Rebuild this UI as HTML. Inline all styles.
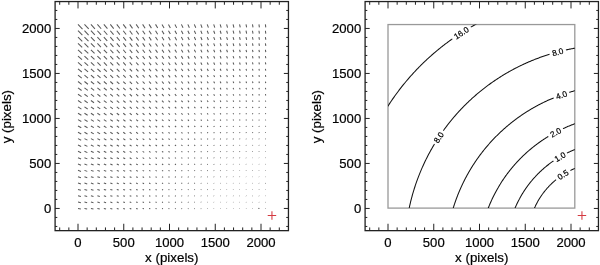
<!DOCTYPE html>
<html><head><meta charset="utf-8"><style>
html,body{margin:0;padding:0;background:#fff;}
svg{display:block;will-change:transform;}
.t{font-family:"Liberation Sans",sans-serif;font-size:13.1px;fill:#000;stroke:#000;stroke-width:0.2px;}
.a{font-family:"Liberation Sans",sans-serif;font-size:13.35px;fill:#000;stroke:#000;stroke-width:0.2px;}
.c{font-family:"Liberation Sans",sans-serif;font-size:8.2px;fill:#000;stroke:#000;stroke-width:0.2px;}
</style></head><body>
<svg width="600" height="265" viewBox="0 0 600 265">
<rect width="600" height="265" fill="#fff"/>
<rect x="55.10" y="1.55" width="233.35" height="229.10" fill="none" stroke="#222" stroke-width="1.3"/>
<path d="M59.70 230.65v-3.2M59.70 1.55v3.2M55.10 226.45h2.2M288.45 226.45h-2.2M68.85 230.65v-3.2M68.85 1.55v3.2M55.10 217.45h2.2M288.45 217.45h-2.2M78.00 230.65v-6.9M78.00 1.55v6.9M55.10 208.45h4.6M288.45 208.45h-4.6M87.15 230.65v-3.2M87.15 1.55v3.2M55.10 199.45h2.2M288.45 199.45h-2.2M96.30 230.65v-3.2M96.30 1.55v3.2M55.10 190.45h2.2M288.45 190.45h-2.2M105.45 230.65v-3.2M105.45 1.55v3.2M55.10 181.45h2.2M288.45 181.45h-2.2M114.60 230.65v-3.2M114.60 1.55v3.2M55.10 172.45h2.2M288.45 172.45h-2.2M123.75 230.65v-6.9M123.75 1.55v6.9M55.10 163.45h4.6M288.45 163.45h-4.6M132.90 230.65v-3.2M132.90 1.55v3.2M55.10 154.45h2.2M288.45 154.45h-2.2M142.05 230.65v-3.2M142.05 1.55v3.2M55.10 145.45h2.2M288.45 145.45h-2.2M151.20 230.65v-3.2M151.20 1.55v3.2M55.10 136.45h2.2M288.45 136.45h-2.2M160.35 230.65v-3.2M160.35 1.55v3.2M55.10 127.45h2.2M288.45 127.45h-2.2M169.50 230.65v-6.9M169.50 1.55v6.9M55.10 118.45h4.6M288.45 118.45h-4.6M178.65 230.65v-3.2M178.65 1.55v3.2M55.10 109.45h2.2M288.45 109.45h-2.2M187.80 230.65v-3.2M187.80 1.55v3.2M55.10 100.45h2.2M288.45 100.45h-2.2M196.95 230.65v-3.2M196.95 1.55v3.2M55.10 91.45h2.2M288.45 91.45h-2.2M206.10 230.65v-3.2M206.10 1.55v3.2M55.10 82.45h2.2M288.45 82.45h-2.2M215.25 230.65v-6.9M215.25 1.55v6.9M55.10 73.45h4.6M288.45 73.45h-4.6M224.40 230.65v-3.2M224.40 1.55v3.2M55.10 64.45h2.2M288.45 64.45h-2.2M233.55 230.65v-3.2M233.55 1.55v3.2M55.10 55.45h2.2M288.45 55.45h-2.2M242.70 230.65v-3.2M242.70 1.55v3.2M55.10 46.45h2.2M288.45 46.45h-2.2M251.85 230.65v-3.2M251.85 1.55v3.2M55.10 37.45h2.2M288.45 37.45h-2.2M261.00 230.65v-6.9M261.00 1.55v6.9M55.10 28.45h4.6M288.45 28.45h-4.6M270.15 230.65v-3.2M270.15 1.55v3.2M55.10 19.45h2.2M288.45 19.45h-2.2M279.30 230.65v-3.2M279.30 1.55v3.2M55.10 10.45h2.2M288.45 10.45h-2.2" stroke="#222" stroke-width="1" fill="none"/>
<text x="78.00" y="247.25" text-anchor="middle" class="t">0</text>
<text x="51.20" y="212.95" text-anchor="end" class="t">0</text>
<text x="123.75" y="247.25" text-anchor="middle" class="t">500</text>
<text x="51.20" y="167.95" text-anchor="end" class="t">500</text>
<text x="169.50" y="247.25" text-anchor="middle" class="t">1000</text>
<text x="51.20" y="122.95" text-anchor="end" class="t">1000</text>
<text x="215.25" y="247.25" text-anchor="middle" class="t">1500</text>
<text x="51.20" y="77.95" text-anchor="end" class="t">1500</text>
<text x="261.00" y="247.25" text-anchor="middle" class="t">2000</text>
<text x="51.20" y="32.95" text-anchor="end" class="t">2000</text>
<text x="171.78" y="261.7" text-anchor="middle" class="a">x (pixels)</text>
<text x="11.50" y="116.65" transform="rotate(-90 11.50 116.65)" text-anchor="middle" class="a">y (pixels)</text>
<path d="M267.70 215.50h8.5M271.95 211.20v8.6" stroke="#d43a40" stroke-width="1.05"/>
<rect x="365.10" y="1.55" width="233.35" height="229.10" fill="none" stroke="#222" stroke-width="1.3"/>
<path d="M369.70 230.65v-3.2M369.70 1.55v3.2M365.10 226.45h2.2M598.45 226.45h-2.2M378.85 230.65v-3.2M378.85 1.55v3.2M365.10 217.45h2.2M598.45 217.45h-2.2M388.00 230.65v-6.9M388.00 1.55v6.9M365.10 208.45h4.6M598.45 208.45h-4.6M397.15 230.65v-3.2M397.15 1.55v3.2M365.10 199.45h2.2M598.45 199.45h-2.2M406.30 230.65v-3.2M406.30 1.55v3.2M365.10 190.45h2.2M598.45 190.45h-2.2M415.45 230.65v-3.2M415.45 1.55v3.2M365.10 181.45h2.2M598.45 181.45h-2.2M424.60 230.65v-3.2M424.60 1.55v3.2M365.10 172.45h2.2M598.45 172.45h-2.2M433.75 230.65v-6.9M433.75 1.55v6.9M365.10 163.45h4.6M598.45 163.45h-4.6M442.90 230.65v-3.2M442.90 1.55v3.2M365.10 154.45h2.2M598.45 154.45h-2.2M452.05 230.65v-3.2M452.05 1.55v3.2M365.10 145.45h2.2M598.45 145.45h-2.2M461.20 230.65v-3.2M461.20 1.55v3.2M365.10 136.45h2.2M598.45 136.45h-2.2M470.35 230.65v-3.2M470.35 1.55v3.2M365.10 127.45h2.2M598.45 127.45h-2.2M479.50 230.65v-6.9M479.50 1.55v6.9M365.10 118.45h4.6M598.45 118.45h-4.6M488.65 230.65v-3.2M488.65 1.55v3.2M365.10 109.45h2.2M598.45 109.45h-2.2M497.80 230.65v-3.2M497.80 1.55v3.2M365.10 100.45h2.2M598.45 100.45h-2.2M506.95 230.65v-3.2M506.95 1.55v3.2M365.10 91.45h2.2M598.45 91.45h-2.2M516.10 230.65v-3.2M516.10 1.55v3.2M365.10 82.45h2.2M598.45 82.45h-2.2M525.25 230.65v-6.9M525.25 1.55v6.9M365.10 73.45h4.6M598.45 73.45h-4.6M534.40 230.65v-3.2M534.40 1.55v3.2M365.10 64.45h2.2M598.45 64.45h-2.2M543.55 230.65v-3.2M543.55 1.55v3.2M365.10 55.45h2.2M598.45 55.45h-2.2M552.70 230.65v-3.2M552.70 1.55v3.2M365.10 46.45h2.2M598.45 46.45h-2.2M561.85 230.65v-3.2M561.85 1.55v3.2M365.10 37.45h2.2M598.45 37.45h-2.2M571.00 230.65v-6.9M571.00 1.55v6.9M365.10 28.45h4.6M598.45 28.45h-4.6M580.15 230.65v-3.2M580.15 1.55v3.2M365.10 19.45h2.2M598.45 19.45h-2.2M589.30 230.65v-3.2M589.30 1.55v3.2M365.10 10.45h2.2M598.45 10.45h-2.2" stroke="#222" stroke-width="1" fill="none"/>
<text x="388.00" y="247.25" text-anchor="middle" class="t">0</text>
<text x="361.20" y="212.95" text-anchor="end" class="t">0</text>
<text x="433.75" y="247.25" text-anchor="middle" class="t">500</text>
<text x="361.20" y="167.95" text-anchor="end" class="t">500</text>
<text x="479.50" y="247.25" text-anchor="middle" class="t">1000</text>
<text x="361.20" y="122.95" text-anchor="end" class="t">1000</text>
<text x="525.25" y="247.25" text-anchor="middle" class="t">1500</text>
<text x="361.20" y="77.95" text-anchor="end" class="t">1500</text>
<text x="571.00" y="247.25" text-anchor="middle" class="t">2000</text>
<text x="361.20" y="32.95" text-anchor="end" class="t">2000</text>
<text x="481.77" y="261.7" text-anchor="middle" class="a">x (pixels)</text>
<text x="321.50" y="116.65" transform="rotate(-90 321.50 116.65)" text-anchor="middle" class="a">y (pixels)</text>
<path d="M577.70 215.50h8.5M581.95 211.20v8.6" stroke="#d43a40" stroke-width="1.05"/>
<path d="M78.00 208.45l2.87 0.49M78.00 202.10l2.88 0.58M78.00 195.76l2.90 0.66M78.00 189.41l2.92 0.75M78.00 183.06l2.94 0.84M78.00 176.71l2.97 0.93M78.00 170.37l3.00 1.03M78.00 164.02l3.03 1.13M78.00 157.67l3.06 1.23M78.00 151.33l3.10 1.33M78.00 144.98l3.14 1.44M78.00 138.63l3.18 1.55M78.00 132.29l3.22 1.67M78.00 125.94l3.27 1.79M78.00 119.59l3.31 1.91M78.00 113.24l3.37 2.04M78.00 106.90l3.42 2.18M78.00 100.55l3.48 2.33M78.00 94.20l3.54 2.48M78.00 87.86l3.60 2.64M78.00 81.51l3.67 2.80M78.00 75.16l3.74 2.97M78.00 68.82l3.82 3.15M78.00 62.47l3.90 3.34M78.00 56.12l3.99 3.54M78.00 49.77l4.08 3.75M78.00 43.43l4.18 3.96M78.00 37.08l4.28 4.19M78.00 30.73l4.38 4.43M78.00 24.39l4.50 4.69M84.46 208.45l2.70 0.49M84.46 202.10l2.71 0.57M84.46 195.76l2.73 0.66M84.46 189.41l2.75 0.74M84.46 183.06l2.77 0.83M84.46 176.71l2.80 0.92M84.46 170.37l2.82 1.01M84.46 164.02l2.85 1.10M84.46 157.67l2.89 1.20M84.46 151.33l2.92 1.30M84.46 144.98l2.96 1.41M84.46 138.63l2.99 1.51M84.46 132.29l3.04 1.63M84.46 125.94l3.08 1.74M84.46 119.59l3.13 1.87M84.46 113.24l3.18 2.00M84.46 106.90l3.23 2.13M84.46 100.55l3.28 2.27M84.46 94.20l3.34 2.42M84.46 87.86l3.40 2.57M84.46 81.51l3.47 2.73M84.46 75.16l3.54 2.90M84.46 68.82l3.61 3.07M84.46 62.47l3.69 3.26M84.46 56.12l3.77 3.45M84.46 49.77l3.85 3.65M84.46 43.43l3.94 3.87M84.46 37.08l4.04 4.09M84.46 30.73l4.14 4.33M84.46 24.39l4.25 4.58M90.92 208.45l2.54 0.49M90.92 202.10l2.55 0.57M90.92 195.76l2.57 0.65M90.92 189.41l2.59 0.73M90.92 183.06l2.61 0.82M90.92 176.71l2.63 0.90M90.92 170.37l2.66 0.99M90.92 164.02l2.69 1.08M90.92 157.67l2.72 1.18M90.92 151.33l2.75 1.27M90.92 144.98l2.79 1.38M90.92 138.63l2.82 1.48M90.92 132.29l2.86 1.59M90.92 125.94l2.91 1.70M90.92 119.59l2.95 1.82M90.92 113.24l3.00 1.95M90.92 106.90l3.05 2.08M90.92 100.55l3.10 2.21M90.92 94.20l3.15 2.36M90.92 87.86l3.21 2.51M90.92 81.51l3.27 2.66M90.92 75.16l3.34 2.83M90.92 68.82l3.41 3.00M90.92 62.47l3.48 3.18M90.92 56.12l3.56 3.37M90.92 49.77l3.64 3.57M90.92 43.43l3.73 3.78M90.92 37.08l3.82 4.00M90.92 30.73l3.91 4.23M90.92 24.39l4.02 4.47M97.39 208.45l2.39 0.49M97.39 202.10l2.40 0.57M97.39 195.76l2.42 0.64M97.39 189.41l2.44 0.72M97.39 183.06l2.46 0.80M97.39 176.71l2.48 0.89M97.39 170.37l2.51 0.97M97.39 164.02l2.53 1.06M97.39 157.67l2.56 1.15M97.39 151.33l2.59 1.25M97.39 144.98l2.63 1.34M97.39 138.63l2.66 1.45M97.39 132.29l2.70 1.55M97.39 125.94l2.74 1.66M97.39 119.59l2.78 1.78M97.39 113.24l2.83 1.90M97.39 106.90l2.87 2.03M97.39 100.55l2.92 2.16M97.39 94.20l2.98 2.30M97.39 87.86l3.03 2.45M97.39 81.51l3.09 2.60M97.39 75.16l3.15 2.76M97.39 68.82l3.21 2.93M97.39 62.47l3.28 3.11M97.39 56.12l3.36 3.29M97.39 49.77l3.43 3.49M97.39 43.43l3.52 3.69M97.39 37.08l3.60 3.91M97.39 30.73l3.70 4.13M97.39 24.39l3.79 4.37M103.85 208.45l2.21 0.48M103.85 202.10l2.24 0.56M103.85 195.76l2.27 0.63M103.85 189.41l2.30 0.71M103.85 183.06l2.32 0.79M103.85 176.71l2.34 0.87M103.85 170.37l2.36 0.95M103.85 164.02l2.39 1.04M103.85 157.67l2.41 1.13M103.85 151.33l2.44 1.22M103.85 144.98l2.48 1.32M103.85 138.63l2.51 1.42M103.85 132.29l2.55 1.52M103.85 125.94l2.58 1.63M103.85 119.59l2.62 1.74M103.85 113.24l2.67 1.86M103.85 106.90l2.71 1.98M103.85 100.55l2.76 2.11M103.85 94.20l2.81 2.25M103.85 87.86l2.86 2.39M103.85 81.51l2.91 2.54M103.85 75.16l2.97 2.70M103.85 68.82l3.03 2.86M103.85 62.47l3.10 3.04M103.85 56.12l3.17 3.22M103.85 49.77l3.24 3.41M103.85 43.43l3.32 3.61M103.85 37.08l3.40 3.82M103.85 30.73l3.49 4.04M103.85 24.39l3.58 4.28M110.31 208.45l2.04 0.47M110.31 202.10l2.06 0.54M110.31 195.76l2.09 0.61M110.31 189.41l2.12 0.69M110.31 183.06l2.15 0.77M110.31 176.71l2.19 0.85M110.31 170.37l2.22 0.94M110.31 164.02l2.25 1.02M110.31 157.67l2.28 1.11M110.31 151.33l2.30 1.20M110.31 144.98l2.33 1.29M110.31 138.63l2.37 1.38M110.31 132.29l2.40 1.49M110.31 125.94l2.44 1.59M110.31 119.59l2.47 1.70M110.31 113.24l2.51 1.81M110.31 106.90l2.56 1.94M110.31 100.55l2.60 2.06M110.31 94.20l2.65 2.19M110.31 87.86l2.70 2.33M110.31 81.51l2.75 2.48M110.31 75.16l2.80 2.64M110.31 68.82l2.86 2.80M110.31 62.47l2.92 2.97M110.31 56.12l2.98 3.15M110.31 49.77l3.05 3.33M110.31 43.43l3.13 3.53M110.31 37.08l3.21 3.74M110.31 30.73l3.29 3.96M110.31 24.39l3.38 4.19M116.77 208.45l1.88 0.46M116.77 202.10l1.90 0.52M116.77 195.76l1.93 0.59M116.77 189.41l1.96 0.67M116.77 183.06l1.99 0.74M116.77 176.71l2.02 0.82M116.77 170.37l2.06 0.91M116.77 164.02l2.10 0.99M116.77 157.67l2.14 1.08M116.77 151.33l2.17 1.17M116.77 144.98l2.20 1.26M116.77 138.63l2.23 1.35M116.77 132.29l2.26 1.45M116.77 125.94l2.30 1.56M116.77 119.59l2.33 1.66M116.77 113.24l2.37 1.77M116.77 106.90l2.41 1.89M116.77 100.55l2.45 2.02M116.77 94.20l2.50 2.15M116.77 87.86l2.54 2.28M116.77 81.51l2.59 2.43M116.77 75.16l2.64 2.58M116.77 68.82l2.69 2.74M116.77 62.47l2.75 2.90M116.77 56.12l2.81 3.08M116.77 49.77l2.88 3.26M116.77 43.43l2.95 3.46M116.77 37.08l3.02 3.66M116.77 30.73l3.10 3.87M116.77 24.39l3.18 4.10M123.23 208.45l1.74 0.44M123.23 202.10l1.76 0.51M123.23 195.76l1.78 0.58M123.23 189.41l1.81 0.65M123.23 183.06l1.84 0.72M123.23 176.71l1.87 0.79M123.23 170.37l1.90 0.87M123.23 164.02l1.94 0.96M123.23 157.67l1.98 1.05M123.23 151.33l2.03 1.14M123.23 144.98l2.07 1.23M123.23 138.63l2.10 1.33M123.23 132.29l2.13 1.42M123.23 125.94l2.16 1.52M123.23 119.59l2.20 1.63M123.23 113.24l2.23 1.74M123.23 106.90l2.27 1.85M123.23 100.55l2.31 1.97M123.23 94.20l2.35 2.10M123.23 87.86l2.40 2.23M123.23 81.51l2.44 2.37M123.23 75.16l2.49 2.52M123.23 68.82l2.54 2.68M123.23 62.47l2.59 2.84M123.23 56.12l2.65 3.02M123.23 49.77l2.71 3.20M123.23 43.43l2.77 3.39M123.23 37.08l2.84 3.58M123.23 30.73l2.92 3.80M123.23 24.39l3.00 4.02M129.70 208.45l1.60 0.43M129.70 202.10l1.62 0.49M129.70 195.76l1.64 0.56M129.70 189.41l1.67 0.62M129.70 183.06l1.70 0.69M129.70 176.71l1.73 0.77M129.70 170.37l1.76 0.84M129.70 164.02l1.80 0.92M129.70 157.67l1.83 1.01M129.70 151.33l1.88 1.10M129.70 144.98l1.92 1.19M129.70 138.63l1.97 1.29M129.70 132.29l2.01 1.39M129.70 125.94l2.04 1.49M129.70 119.59l2.07 1.59M129.70 113.24l2.10 1.70M129.70 106.90l2.14 1.81M129.70 100.55l2.18 1.93M129.70 94.20l2.22 2.05M129.70 87.86l2.26 2.18M129.70 81.51l2.30 2.32M129.70 75.16l2.35 2.47M129.70 68.82l2.39 2.62M129.70 62.47l2.44 2.78M129.70 56.12l2.49 2.95M129.70 49.77l2.55 3.13M129.70 43.43l2.61 3.32M129.70 37.08l2.67 3.51M129.70 30.73l2.74 3.72M129.70 24.39l2.82 3.94M136.16 208.45l1.48 0.42M136.16 202.10l1.49 0.48M136.16 195.76l1.52 0.54M136.16 189.41l1.54 0.60M136.16 183.06l1.57 0.67M136.16 176.71l1.59 0.74M136.16 170.37l1.63 0.81M136.16 164.02l1.66 0.89M136.16 157.67l1.70 0.97M136.16 151.33l1.74 1.06M136.16 144.98l1.78 1.15M136.16 138.63l1.82 1.25M136.16 132.29l1.87 1.35M136.16 125.94l1.92 1.46M136.16 119.59l1.95 1.56M136.16 113.24l1.98 1.66M136.16 106.90l2.02 1.77M136.16 100.55l2.05 1.89M136.16 94.20l2.09 2.01M136.16 87.86l2.13 2.14M136.16 81.51l2.17 2.27M136.16 75.16l2.21 2.41M136.16 68.82l2.25 2.56M136.16 62.47l2.30 2.72M136.16 56.12l2.35 2.89M136.16 49.77l2.40 3.07M136.16 43.43l2.45 3.26M136.16 37.08l2.51 3.45M136.16 30.73l2.58 3.65M136.16 24.39l2.65 3.87M142.62 208.45l1.36 0.41M142.62 202.10l1.38 0.47M142.62 195.76l1.40 0.53M142.62 189.41l1.42 0.59M142.62 183.06l1.45 0.65M142.62 176.71l1.47 0.72M142.62 170.37l1.50 0.79M142.62 164.02l1.53 0.86M142.62 157.67l1.57 0.94M142.62 151.33l1.61 1.02M142.62 144.98l1.64 1.11M142.62 138.63l1.69 1.20M142.62 132.29l1.73 1.30M142.62 125.94l1.78 1.41M142.62 119.59l1.83 1.52M142.62 113.24l1.87 1.63M142.62 106.90l1.90 1.73M142.62 100.55l1.93 1.85M142.62 94.20l1.97 1.97M142.62 87.86l2.00 2.09M142.62 81.51l2.04 2.22M142.62 75.16l2.08 2.36M142.62 68.82l2.12 2.51M142.62 62.47l2.16 2.67M142.62 56.12l2.21 2.83M142.62 49.77l2.25 3.01M142.62 43.43l2.30 3.19M142.62 37.08l2.36 3.38M142.62 30.73l2.42 3.58M142.62 24.39l2.49 3.80M149.08 208.45l1.23 0.39M149.08 202.10l1.26 0.45M149.08 195.76l1.28 0.51M149.08 189.41l1.31 0.57M149.08 183.06l1.34 0.63M149.08 176.71l1.36 0.69M149.08 170.37l1.39 0.76M149.08 164.02l1.42 0.83M149.08 157.67l1.45 0.91M149.08 151.33l1.48 0.99M149.08 144.98l1.52 1.07M149.08 138.63l1.56 1.16M149.08 132.29l1.60 1.26M149.08 125.94l1.65 1.36M149.08 119.59l1.70 1.47M149.08 113.24l1.75 1.59M149.08 106.90l1.79 1.70M149.08 100.55l1.82 1.81M149.08 94.20l1.85 1.93M149.08 87.86l1.88 2.05M149.08 81.51l1.92 2.18M149.08 75.16l1.95 2.32M149.08 68.82l1.99 2.46M149.08 62.47l2.03 2.61M149.08 56.12l2.08 2.78M149.08 49.77l2.12 2.95M149.08 43.43l2.16 3.13M149.08 37.08l2.21 3.32M149.08 30.73l2.27 3.52M149.08 24.39l2.33 3.73M155.54 208.45l1.11 0.37M155.54 202.10l1.13 0.42M155.54 195.76l1.16 0.48M155.54 189.41l1.19 0.54M155.54 183.06l1.22 0.60M155.54 176.71l1.26 0.67M155.54 170.37l1.28 0.74M155.54 164.02l1.31 0.80M155.54 157.67l1.34 0.88M155.54 151.33l1.37 0.95M155.54 144.98l1.41 1.04M155.54 138.63l1.44 1.12M155.54 132.29l1.48 1.22M155.54 125.94l1.53 1.32M155.54 119.59l1.57 1.42M155.54 113.24l1.62 1.54M155.54 106.90l1.67 1.66M155.54 100.55l1.71 1.77M155.54 94.20l1.74 1.89M155.54 87.86l1.77 2.01M155.54 81.51l1.80 2.14M155.54 75.16l1.84 2.27M155.54 68.82l1.87 2.41M155.54 62.47l1.91 2.56M155.54 56.12l1.95 2.72M155.54 49.77l1.99 2.89M155.54 43.43l2.03 3.07M155.54 37.08l2.07 3.26M155.54 30.73l2.12 3.46M155.54 24.39l2.18 3.67M162.01 208.45l1.00 0.34M162.01 202.10l1.02 0.40M162.01 195.76l1.05 0.45M162.01 189.41l1.08 0.51M162.01 183.06l1.11 0.57M162.01 176.71l1.14 0.63M162.01 170.37l1.18 0.71M162.01 164.02l1.21 0.78M162.01 157.67l1.24 0.85M162.01 151.33l1.27 0.92M162.01 144.98l1.30 1.00M162.01 138.63l1.34 1.09M162.01 132.29l1.37 1.18M162.01 125.94l1.41 1.27M162.01 119.59l1.45 1.38M162.01 113.24l1.50 1.49M162.01 106.90l1.55 1.61M162.01 100.55l1.60 1.73M162.01 94.20l1.63 1.85M162.01 87.86l1.66 1.97M162.01 81.51l1.69 2.10M162.01 75.16l1.72 2.23M162.01 68.82l1.76 2.37M162.01 62.47l1.79 2.52M162.01 56.12l1.83 2.67M162.01 49.77l1.87 2.84M162.01 43.43l1.90 3.02M162.01 37.08l1.94 3.20M162.01 30.73l1.99 3.40M162.01 24.39l2.03 3.61M168.47 208.45l0.90 0.33M168.47 202.10l0.92 0.37M168.47 195.76l0.95 0.42M168.47 189.41l0.97 0.48M168.47 183.06l1.00 0.54M168.47 176.71l1.03 0.60M168.47 170.37l1.06 0.67M168.47 164.02l1.10 0.74M168.47 157.67l1.14 0.82M168.47 151.33l1.17 0.89M168.47 144.98l1.20 0.97M168.47 138.63l1.23 1.05M168.47 132.29l1.27 1.14M168.47 125.94l1.31 1.23M168.47 119.59l1.34 1.33M168.47 113.24l1.39 1.44M168.47 106.90l1.43 1.56M168.47 100.55l1.48 1.68M168.47 94.20l1.53 1.81M168.47 87.86l1.56 1.93M168.47 81.51l1.59 2.06M168.47 75.16l1.62 2.19M168.47 68.82l1.65 2.33M168.47 62.47l1.68 2.47M168.47 56.12l1.71 2.63M168.47 49.77l1.75 2.79M168.47 43.43l1.78 2.96M168.47 37.08l1.82 3.15M168.47 30.73l1.86 3.34M168.47 24.39l1.90 3.55M174.93 208.45l0.82 0.31M174.93 202.10l0.83 0.35M174.93 195.76l0.86 0.40M174.93 189.41l0.88 0.45M174.93 183.06l0.90 0.51M174.93 176.71l0.93 0.57M174.93 170.37l0.96 0.63M174.93 164.02l1.00 0.70M174.93 157.67l1.04 0.78M174.93 151.33l1.08 0.86M174.93 144.98l1.11 0.94M174.93 138.63l1.14 1.02M174.93 132.29l1.17 1.10M174.93 125.94l1.21 1.19M174.93 119.59l1.24 1.29M174.93 113.24l1.28 1.40M174.93 106.90l1.32 1.51M174.93 100.55l1.37 1.63M174.93 94.20l1.41 1.76M174.93 87.86l1.46 1.90M174.93 81.51l1.49 2.02M174.93 75.16l1.51 2.15M174.93 68.82l1.54 2.28M174.93 62.47l1.57 2.43M174.93 56.12l1.60 2.58M174.93 49.77l1.63 2.74M174.93 43.43l1.67 2.91M174.93 37.08l1.70 3.10M174.93 30.73l1.73 3.29M174.93 24.39l1.77 3.49M181.39 208.45l0.73 0.28M181.39 202.10l0.75 0.33M181.39 195.76l0.77 0.38M181.39 189.41l0.79 0.43M181.39 183.06l0.82 0.48M181.39 176.71l0.84 0.54M181.39 170.37l0.87 0.60M181.39 164.02l0.90 0.66M181.39 157.67l0.94 0.74M181.39 151.33l0.98 0.82M181.39 144.98l1.02 0.90M181.39 138.63l1.05 0.99M181.39 132.29l1.08 1.07M181.39 125.94l1.11 1.16M181.39 119.59l1.15 1.25M181.39 113.24l1.18 1.36M181.39 106.90l1.22 1.46M181.39 100.55l1.26 1.58M181.39 94.20l1.30 1.71M181.39 87.86l1.35 1.84M181.39 81.51l1.39 1.99M181.39 75.16l1.42 2.11M181.39 68.82l1.44 2.25M181.39 62.47l1.47 2.39M181.39 56.12l1.50 2.54M181.39 49.77l1.53 2.70M181.39 43.43l1.55 2.87M181.39 37.08l1.58 3.05M181.39 30.73l1.62 3.24M181.39 24.39l1.65 3.44M187.85 208.45l0.64 0.25M187.85 202.10l0.66 0.30M187.85 195.76l0.68 0.35M187.85 189.41l0.71 0.40M187.85 183.06l0.74 0.46M187.85 176.71l0.76 0.51M187.85 170.37l0.79 0.57M187.85 164.02l0.82 0.63M187.85 157.67l0.85 0.70M187.85 151.33l0.88 0.78M187.85 144.98l0.92 0.86M187.85 138.63l0.96 0.95M187.85 132.29l1.00 1.04M187.85 125.94l1.03 1.13M187.85 119.59l1.06 1.22M187.85 113.24l1.09 1.32M187.85 106.90l1.13 1.42M187.85 100.55l1.16 1.54M187.85 94.20l1.20 1.66M187.85 87.86l1.25 1.79M187.85 81.51l1.29 1.94M187.85 75.16l1.32 2.08M187.85 68.82l1.35 2.21M187.85 62.47l1.37 2.35M187.85 56.12l1.40 2.50M187.85 49.77l1.42 2.65M187.85 43.43l1.45 2.82M187.85 37.08l1.47 3.00M187.85 30.73l1.50 3.19M187.85 24.39l1.53 3.39M194.32 208.45l0.56 0.23M194.32 202.10l0.58 0.27M194.32 195.76l0.60 0.32M194.32 189.41l0.63 0.37M194.32 183.06l0.66 0.42M194.32 176.71l0.69 0.48M194.32 170.37l0.71 0.54M194.32 164.02l0.74 0.60M194.32 157.67l0.77 0.67M194.32 151.33l0.80 0.74M194.32 144.98l0.83 0.82M194.32 138.63l0.87 0.90M194.32 132.29l0.91 1.00M194.32 125.94l0.95 1.09M194.32 119.59l0.98 1.18M194.32 113.24l1.01 1.28M194.32 106.90l1.04 1.38M194.32 100.55l1.07 1.50M194.32 94.20l1.11 1.62M194.32 87.86l1.15 1.75M194.32 81.51l1.19 1.89M194.32 75.16l1.23 2.04M194.32 68.82l1.25 2.17M194.32 62.47l1.28 2.31M194.32 56.12l1.30 2.46M194.32 49.77l1.32 2.61M194.32 43.43l1.34 2.78M194.32 37.08l1.37 2.96M194.32 30.73l1.39 3.14M194.32 24.39l1.42 3.34M200.78 208.45l0.49 0.20M200.78 202.10l0.51 0.24M200.78 195.76l0.53 0.29M200.78 189.41l0.55 0.33M200.78 183.06l0.57 0.39M200.78 176.71l0.60 0.45M200.78 170.37l0.64 0.51M200.78 164.02l0.67 0.57M200.78 157.67l0.69 0.63M200.78 151.33l0.72 0.70M200.78 144.98l0.75 0.78M200.78 138.63l0.79 0.86M200.78 132.29l0.83 0.95M200.78 125.94l0.87 1.06M200.78 119.59l0.90 1.15M200.78 113.24l0.93 1.25M200.78 106.90l0.96 1.35M200.78 100.55l0.99 1.46M200.78 94.20l1.02 1.58M200.78 87.86l1.06 1.70M200.78 81.51l1.09 1.84M200.78 75.16l1.13 1.99M200.78 68.82l1.17 2.14M200.78 62.47l1.18 2.28M200.78 56.12l1.20 2.42M200.78 49.77l1.22 2.58M200.78 43.43l1.24 2.74M200.78 37.08l1.27 2.92M200.78 30.73l1.29 3.10M200.78 24.39l1.31 3.30M207.24 208.45l0.42 0.18M207.24 202.10l0.44 0.22M207.24 195.76l0.46 0.26M207.24 189.41l0.48 0.30M207.24 183.06l0.50 0.35M207.24 176.71l0.53 0.41M207.24 170.37l0.56 0.47M207.24 164.02l0.60 0.54M207.24 157.67l0.63 0.61M207.24 151.33l0.65 0.67M207.24 144.98l0.68 0.75M207.24 138.63l0.71 0.83M207.24 132.29l0.75 0.91M207.24 125.94l0.78 1.01M207.24 119.59l0.82 1.12M207.24 113.24l0.85 1.22M207.24 106.90l0.88 1.31M207.24 100.55l0.91 1.42M207.24 94.20l0.94 1.54M207.24 87.86l0.97 1.66M207.24 81.51l1.00 1.80M207.24 75.16l1.04 1.94M207.24 68.82l1.08 2.10M207.24 62.47l1.10 2.24M207.24 56.12l1.11 2.39M207.24 49.77l1.13 2.54M207.24 43.43l1.15 2.70M207.24 37.08l1.17 2.88M207.24 30.73l1.18 3.06M207.24 24.39l1.20 3.26M213.70 208.45l0.36 0.15M213.70 202.10l0.37 0.19M213.70 195.76l0.39 0.23M213.70 189.41l0.42 0.28M213.70 183.06l0.44 0.33M213.70 176.71l0.46 0.38M213.70 170.37l0.49 0.44M213.70 164.02l0.52 0.50M213.70 157.67l0.56 0.57M213.70 151.33l0.59 0.64M213.70 144.98l0.61 0.71M213.70 138.63l0.64 0.79M213.70 132.29l0.67 0.88M213.70 125.94l0.71 0.97M213.70 119.59l0.74 1.07M213.70 113.24l0.78 1.19M213.70 106.90l0.81 1.28M213.70 100.55l0.83 1.39M213.70 94.20l0.86 1.50M213.70 87.86l0.89 1.63M213.70 81.51l0.92 1.76M213.70 75.16l0.95 1.90M213.70 68.82l0.98 2.06M213.70 62.47l1.01 2.21M213.70 56.12l1.03 2.36M213.70 49.77l1.04 2.51M213.70 43.43l1.06 2.67M213.70 37.08l1.07 2.84M213.70 30.73l1.09 3.02M213.70 24.39l1.10 3.22M220.16 208.45l0.35 0.15M220.16 202.10l0.34 0.18M220.16 195.76l0.33 0.20M220.16 189.41l0.35 0.25M220.16 183.06l0.38 0.30M220.16 176.71l0.40 0.35M220.16 170.37l0.43 0.41M220.16 164.02l0.45 0.47M220.16 157.67l0.49 0.53M220.16 151.33l0.52 0.61M220.16 144.98l0.55 0.69M220.16 138.63l0.58 0.76M220.16 132.29l0.61 0.84M220.16 125.94l0.64 0.93M220.16 119.59l0.67 1.03M220.16 113.24l0.71 1.14M220.16 106.90l0.74 1.25M220.16 100.55l0.76 1.36M220.16 94.20l0.78 1.47M220.16 87.86l0.81 1.59M220.16 81.51l0.84 1.72M220.16 75.16l0.87 1.86M220.16 68.82l0.90 2.01M220.16 62.47l0.93 2.18M220.16 56.12l0.94 2.33M220.16 49.77l0.95 2.48M220.16 43.43l0.97 2.64M220.16 37.08l0.98 2.81M220.16 30.73l0.99 2.99M220.16 24.39l1.00 3.18M226.63 208.45l0.35 0.16M226.63 202.10l0.33 0.18M226.63 195.76l0.32 0.21M226.63 189.41l0.30 0.23M226.63 183.06l0.32 0.27M226.63 176.71l0.35 0.32M226.63 170.37l0.37 0.38M226.63 164.02l0.39 0.44M226.63 157.67l0.42 0.50M226.63 151.33l0.46 0.57M226.63 144.98l0.50 0.66M226.63 138.63l0.52 0.73M226.63 132.29l0.55 0.81M226.63 125.94l0.57 0.90M226.63 119.59l0.60 1.00M226.63 113.24l0.63 1.10M226.63 106.90l0.67 1.22M226.63 100.55l0.69 1.33M226.63 94.20l0.71 1.44M226.63 87.86l0.74 1.56M226.63 81.51l0.76 1.69M226.63 75.16l0.79 1.83M226.63 68.82l0.81 1.98M226.63 62.47l0.84 2.14M226.63 56.12l0.86 2.30M226.63 49.77l0.87 2.45M226.63 43.43l0.88 2.61M226.63 37.08l0.89 2.78M226.63 30.73l0.90 2.96M226.63 24.39l0.90 3.15M233.09 208.45l0.34 0.17M233.09 202.10l0.33 0.20M233.09 195.76l0.31 0.22M233.09 189.41l0.29 0.24M233.09 183.06l0.28 0.26M233.09 176.71l0.29 0.29M233.09 170.37l0.32 0.35M233.09 164.02l0.34 0.41M233.09 157.67l0.37 0.47M233.09 151.33l0.40 0.54M233.09 144.98l0.43 0.62M233.09 138.63l0.47 0.71M233.09 132.29l0.49 0.78M233.09 125.94l0.51 0.87M233.09 119.59l0.54 0.96M233.09 113.24l0.57 1.07M233.09 106.90l0.60 1.18M233.09 100.55l0.63 1.30M233.09 94.20l0.65 1.41M233.09 87.86l0.67 1.53M233.09 81.51l0.69 1.65M233.09 75.16l0.71 1.79M233.09 68.82l0.73 1.94M233.09 62.47l0.76 2.10M233.09 56.12l0.78 2.27M233.09 49.77l0.79 2.42M233.09 43.43l0.79 2.58M233.09 37.08l0.80 2.75M233.09 30.73l0.81 2.93M233.09 24.39l0.81 3.12M239.55 208.45l0.33 0.18M239.55 202.10l0.32 0.21M239.55 195.76l0.30 0.23M239.55 189.41l0.28 0.25M239.55 183.06l0.27 0.27M239.55 176.71l0.25 0.28M239.55 170.37l0.26 0.32M239.55 164.02l0.29 0.39M239.55 157.67l0.32 0.45M239.55 151.33l0.34 0.51M239.55 144.98l0.37 0.59M239.55 138.63l0.41 0.67M239.55 132.29l0.44 0.76M239.55 125.94l0.46 0.84M239.55 119.59l0.48 0.93M239.55 113.24l0.51 1.03M239.55 106.90l0.54 1.15M239.55 100.55l0.57 1.27M239.55 94.20l0.58 1.39M239.55 87.86l0.60 1.50M239.55 81.51l0.62 1.63M239.55 75.16l0.64 1.76M239.55 68.82l0.66 1.91M239.55 62.47l0.68 2.07M239.55 56.12l0.70 2.24M239.55 49.77l0.71 2.40M239.55 43.43l0.71 2.56M239.55 37.08l0.71 2.73M239.55 30.73l0.72 2.90M239.55 24.39l0.72 3.10M246.01 208.45l0.32 0.20M246.01 202.10l0.30 0.23M246.01 195.76l0.28 0.25M246.01 189.41l0.27 0.27M246.01 183.06l0.25 0.29M246.01 176.71l0.23 0.30M246.01 170.37l0.22 0.31M246.01 164.02l0.24 0.36M246.01 157.67l0.27 0.43M246.01 151.33l0.29 0.49M246.01 144.98l0.32 0.56M246.01 138.63l0.35 0.64M246.01 132.29l0.39 0.73M246.01 125.94l0.41 0.81M246.01 119.59l0.43 0.90M246.01 113.24l0.45 1.00M246.01 106.90l0.48 1.12M246.01 100.55l0.50 1.24M246.01 94.20l0.52 1.36M246.01 87.86l0.54 1.48M246.01 81.51l0.55 1.60M246.01 75.16l0.57 1.73M246.01 68.82l0.59 1.88M246.01 62.47l0.60 2.04M246.01 56.12l0.62 2.21M246.01 49.77l0.63 2.38M246.01 43.43l0.63 2.53M246.01 37.08l0.63 2.70M246.01 30.73l0.63 2.88M246.01 24.39l0.63 3.07M252.47 208.45l0.31 0.22M252.47 202.10l0.29 0.25M252.47 195.76l0.26 0.27M252.47 189.41l0.25 0.29M252.47 183.06l0.23 0.30M252.47 176.71l0.21 0.32M252.47 170.37l0.20 0.32M252.47 164.02l0.20 0.33M252.47 157.67l0.22 0.40M252.47 151.33l0.25 0.47M252.47 144.98l0.27 0.54M252.47 138.63l0.30 0.61M252.47 132.29l0.33 0.70M252.47 125.94l0.36 0.79M252.47 119.59l0.38 0.88M252.47 113.24l0.40 0.98M252.47 106.90l0.42 1.09M252.47 100.55l0.44 1.21M252.47 94.20l0.47 1.34M252.47 87.86l0.48 1.45M252.47 81.51l0.49 1.58M252.47 75.16l0.50 1.71M252.47 68.82l0.52 1.85M252.47 62.47l0.53 2.01M252.47 56.12l0.54 2.18M252.47 49.77l0.55 2.36M252.47 43.43l0.55 2.51M252.47 37.08l0.55 2.68M252.47 30.73l0.54 2.86M252.47 24.39l0.54 3.05M258.94 208.45l0.29 0.25M258.94 202.10l0.26 0.27M258.94 195.76l0.24 0.29M258.94 189.41l0.22 0.31M258.94 183.06l0.20 0.32M258.94 176.71l0.19 0.33M258.94 170.37l0.17 0.34M258.94 164.02l0.17 0.34M258.94 157.67l0.18 0.38M258.94 151.33l0.21 0.45M258.94 144.98l0.23 0.52M258.94 138.63l0.26 0.59M258.94 132.29l0.28 0.68M258.94 125.94l0.32 0.77M258.94 119.59l0.33 0.86M258.94 113.24l0.35 0.95M258.94 106.90l0.37 1.06M258.94 100.55l0.39 1.18M258.94 94.20l0.41 1.31M258.94 87.86l0.42 1.43M258.94 81.51l0.43 1.56M258.94 75.16l0.44 1.69M258.94 68.82l0.45 1.83M258.94 62.47l0.46 1.99M258.94 56.12l0.47 2.15M258.94 49.77l0.48 2.34M258.94 43.43l0.47 2.50M258.94 37.08l0.47 2.66M258.94 30.73l0.46 2.84M258.94 24.39l0.45 3.03M265.40 208.45l0.26 0.28M265.40 202.10l0.23 0.30M265.40 195.76l0.21 0.32M265.40 189.41l0.19 0.33M265.40 183.06l0.17 0.34M265.40 176.71l0.16 0.34M265.40 170.37l0.15 0.35M265.40 164.02l0.14 0.35M265.40 157.67l0.14 0.36M265.40 151.33l0.17 0.43M265.40 144.98l0.19 0.50M265.40 138.63l0.21 0.57M265.40 132.29l0.24 0.65M265.40 125.94l0.27 0.75M265.40 119.59l0.29 0.84M265.40 113.24l0.30 0.93M265.40 106.90l0.32 1.04M265.40 100.55l0.33 1.16M265.40 94.20l0.35 1.29M265.40 87.86l0.36 1.42M265.40 81.51l0.37 1.54M265.40 75.16l0.38 1.67M265.40 68.82l0.38 1.81M265.40 62.47l0.39 1.96M265.40 56.12l0.40 2.13M265.40 49.77l0.40 2.32M265.40 43.43l0.40 2.48M265.40 37.08l0.39 2.65M265.40 30.73l0.38 2.83M265.40 24.39l0.36 3.02" stroke="#5a5a5a" stroke-width="1.05" stroke-linecap="butt" fill="none"/>
<path d="M258.0 208.4h1.4" stroke="#888" stroke-width="1.0"/>
<rect x="388.00" y="24.55" width="186.80" height="183.55" fill="none" stroke="#999" stroke-width="1.3"/>
<defs><clipPath id="cp"><rect x="388.00" y="24.55" width="186.80" height="183.55"/></clipPath></defs>
<path d="M387.15 107.36L387.66 106.56L388.17 105.76L388.69 104.96L389.21 104.16L389.73 103.37L390.26 102.57L390.79 101.78L391.32 100.99L391.85 100.21L392.39 99.42L392.93 98.64L393.48 97.86L394.03 97.08L394.58 96.31L395.13 95.53L395.69 94.76L396.25 93.99L396.81 93.22L397.38 92.46L397.95 91.70L398.52 90.94L399.09 90.18L399.67 89.42L400.25 88.67L400.84 87.92L401.42 87.17L402.01 86.42L402.60 85.68L403.20 84.93L403.80 84.20L404.40 83.46L405.00 82.72L405.61 81.99L406.22 81.26L406.83 80.53L407.45 79.81L408.07 79.08L408.69 78.36L409.31 77.64L409.94 76.93L410.57 76.22L411.20 75.51L411.84 74.80L412.48 74.09L413.12 73.39L413.76 72.69L414.41 71.99L415.06 71.29L415.71 70.60L416.37 69.91L417.02 69.22L417.68 68.54L418.35 67.85L419.01 67.17L419.68 66.50L420.35 65.82L421.02 65.15L421.70 64.48L422.38 63.81L423.06 63.15L423.74 62.49L424.43 61.83L425.12 61.17L425.81 60.52L426.51 59.87L427.20 59.22L427.90 58.58L428.60 57.93L429.31 57.29L430.02 56.66L430.72 56.02L431.44 55.39L432.15 54.76L432.87 54.14L433.59 53.52L434.31 52.90L435.03 52.28L435.76 51.66L436.49 51.05L437.22 50.44L437.95 49.84L438.69 49.24L439.43 48.64L440.17 48.04L440.91 47.44L441.66 46.85L442.41 46.26L443.16 45.68L443.91 45.10L444.66 44.52L445.42 43.94L446.18 43.37L446.94 42.80L447.71 42.23L448.47 41.67L449.24 41.10L450.01 40.55L450.78 39.99L451.56 39.44L452.33 38.89M470.78 27.12L471.60 26.64L472.43 26.17L473.26 25.71L474.09 25.24L474.92 24.78L475.75 24.32L476.59 23.87M408.99 209.07L409.15 208.28L409.32 207.49L409.49 206.70L409.66 205.91L409.84 205.13L410.02 204.34L410.20 203.55L410.39 202.77L410.57 201.98L410.77 201.20L410.96 200.42L411.16 199.64L411.36 198.86L411.56 198.07L411.77 197.30L411.98 196.52L412.19 195.74L412.41 194.96L412.63 194.19L412.85 193.41L413.08 192.64L413.30 191.86L413.54 191.09L413.77 190.32L414.01 189.55L414.25 188.78L414.49 188.01L414.74 187.24L414.99 186.47L415.24 185.71L415.50 184.94L415.75 184.18L416.02 183.41L416.28 182.65L416.55 181.89L416.82 181.13L417.09 180.37L417.37 179.61L417.65 178.86L417.93 178.10L418.22 177.35L418.50 176.60L418.80 175.84L419.09 175.09L419.39 174.34L419.69 173.59L419.99 172.85L420.30 172.10L420.61 171.35L420.92 170.61L421.23 169.87L421.55 169.13L421.87 168.39L422.20 167.65L422.52 166.91L422.85 166.17L423.18 165.44L423.52 164.71L423.86 163.97L424.20 163.24L424.54 162.51L424.89 161.78L425.24 161.06L425.59 160.33L425.95 159.61L426.30 158.88L426.66 158.16L427.03 157.44L427.40 156.73L427.76 156.01L428.14 155.29L428.51 154.58L428.89 153.87L429.27 153.15L429.65 152.45L430.04 151.74L430.43 151.03L430.82 150.33L431.22 149.62L431.61 148.92L432.01 148.22L432.42 147.52L432.82 146.82L433.23 146.13L433.64 145.43L434.05 144.74L434.47 144.05M443.36 130.59L443.83 129.94L444.31 129.29L444.79 128.64L445.27 127.99L445.75 127.34L446.23 126.70L446.72 126.06L447.21 125.42L447.70 124.78L448.20 124.14L448.69 123.50L449.19 122.87L449.70 122.24L450.20 121.61L450.71 120.98L451.22 120.36L451.73 119.74L452.25 119.11L452.76 118.50L453.28 117.88L453.80 117.26L454.33 116.65L454.86 116.04L455.38 115.43L455.92 114.82L456.45 114.22L456.99 113.62L457.53 113.02L458.07 112.42L458.61 111.82L459.16 111.23L459.70 110.64L460.25 110.05L460.81 109.46L461.36 108.87L461.92 108.29L462.48 107.71L463.04 107.13L463.60 106.56L464.17 105.98L464.74 105.41L465.31 104.84L465.88 104.27L466.46 103.71L467.04 103.14L467.62 102.58L468.20 102.02L468.78 101.47L469.37 100.91L469.96 100.36L470.55 99.81L471.14 99.27L471.74 98.72L472.33 98.18L472.93 97.64L473.53 97.10L474.14 96.57L474.74 96.03L475.35 95.50L475.96 94.98L476.57 94.45L477.19 93.93L477.80 93.41L478.42 92.89L479.04 92.37L479.66 91.86L480.29 91.35L480.91 90.84L481.54 90.33L482.17 89.83L482.80 89.33L483.44 88.83L484.07 88.33L484.71 87.84L485.35 87.35L485.99 86.86L486.64 86.37L487.28 85.89L487.93 85.41L488.58 84.93L489.23 84.46L489.88 83.98L490.54 83.51L491.19 83.04L491.85 82.58L492.51 82.11L493.18 81.65L493.84 81.20L494.51 80.74L495.17 80.29L495.84 79.84L496.51 79.39L497.19 78.95L497.86 78.50L498.54 78.07L499.22 77.63L499.90 77.19L500.58 76.76L501.26 76.33L501.95 75.91L502.63 75.49L503.32 75.06L504.01 74.65L504.70 74.23L505.40 73.82L506.09 73.41L506.79 73.00L507.49 72.60L508.19 72.20L508.89 71.80L509.59 71.40L510.29 71.01L511.00 70.62L511.71 70.23L512.42 69.85L513.13 69.46L513.84 69.08L514.55 68.71L515.27 68.33L515.98 67.96L516.70 67.60L517.42 67.23L518.14 66.87L518.86 66.51L519.59 66.15L520.31 65.80L521.04 65.45L521.76 65.10L522.49 64.75L523.22 64.41L523.95 64.07L524.69 63.74L525.42 63.40L526.16 63.07L526.89 62.74L527.63 62.42L528.37 62.10L529.11 61.78L529.86 61.46L530.60 61.15L531.34 60.84L532.09 60.53L532.84 60.22L533.58 59.92L534.33 59.62L535.08 59.33L535.83 59.03L536.59 58.74L537.34 58.46L538.10 58.17L538.85 57.89L539.61 57.61L540.37 57.34L541.13 57.07L541.89 56.80L542.65 56.53L543.41 56.27L544.17 56.01L544.94 55.75L545.70 55.50L546.47 55.25L547.24 55.00L548.01 54.75L548.78 54.51L549.55 54.27M565.92 49.96L566.71 49.79L567.50 49.62L568.29 49.45L569.08 49.29L569.87 49.13L570.66 48.98L571.45 48.82L572.25 48.67L573.04 48.53L573.83 48.38L574.63 48.24L575.42 48.11M453.01 208.77L453.21 208.11L453.41 207.46L453.62 206.80L453.82 206.15L454.03 205.50L454.25 204.85L454.46 204.20L454.68 203.55L454.90 202.90L455.12 202.25L455.34 201.60L455.57 200.96L455.80 200.31L456.03 199.67L456.27 199.02L456.51 198.38L456.75 197.74L456.99 197.10L457.23 196.46L457.48 195.82L457.73 195.18L457.98 194.54L458.24 193.91L458.50 193.27L458.76 192.64L459.02 192.01L459.28 191.38L459.55 190.74L459.82 190.12L460.09 189.49L460.37 188.86L460.64 188.23L460.92 187.61L461.21 186.98L461.49 186.36L461.78 185.74L462.07 185.12L462.36 184.50L462.65 183.88L462.95 183.26L463.25 182.64L463.55 182.03L463.86 181.42L464.16 180.80L464.47 180.19L464.78 179.58L465.10 178.97L465.41 178.36L465.73 177.76L466.05 177.15L466.38 176.55L466.70 175.95L467.03 175.34L467.36 174.74L467.69 174.15L468.03 173.55L468.37 172.95L468.71 172.36L469.05 171.76L469.39 171.17L469.74 170.58L470.09 169.99L470.44 169.40L470.79 168.82L471.15 168.23L471.51 167.65L471.87 167.06L472.23 166.48L472.60 165.90L472.96 165.33L473.33 164.75L473.71 164.17L474.08 163.60L474.46 163.03L474.84 162.46L475.22 161.89L475.60 161.32L475.99 160.75L476.37 160.19L476.76 159.63L477.16 159.06L477.55 158.50L477.95 157.94L478.35 157.39L478.75 156.83L479.15 156.28L479.55 155.73L479.96 155.18L480.37 154.63L480.78 154.08L481.20 153.53L481.61 152.99L482.03 152.45L482.45 151.90L482.87 151.37L483.30 150.83L483.73 150.29L484.15 149.76L484.59 149.22L485.02 148.69L485.45 148.16L485.89 147.64L486.33 147.11L486.77 146.59L487.21 146.06L487.66 145.54L488.11 145.03L488.56 144.51L489.01 143.99L489.46 143.48L489.92 142.97L490.38 142.46L490.83 141.95L491.30 141.44L491.76 140.94L492.23 140.44L492.69 139.94L493.16 139.44L493.63 138.94L494.11 138.44L494.58 137.95L495.06 137.46L495.54 136.97L496.02 136.48L496.50 136.00L496.99 135.51L497.47 135.03L497.96 134.55L498.45 134.07L498.95 133.60L499.44 133.12L499.94 132.65L500.43 132.18L500.93 131.71L501.44 131.24L501.94 130.78L502.45 130.32L502.95 129.86L503.46 129.40L503.97 128.94L504.48 128.49L505.00 128.03L505.52 127.58L506.03 127.13L506.55 126.69L507.07 126.24L507.60 125.80L508.12 125.36L508.65 124.92L509.18 124.49L509.71 124.05L510.24 123.62L510.77 123.19L511.31 122.76L511.84 122.34L512.38 121.91L512.92 121.49L513.47 121.07L514.01 120.66L514.55 120.24L515.10 119.83L515.65 119.42L516.20 119.01L516.75 118.60L517.30 118.20L517.86 117.80L518.41 117.40L518.97 117.00L519.53 116.60L520.09 116.21L520.66 115.82L521.22 115.43L521.79 115.04L522.35 114.66L522.92 114.28L523.49 113.90L524.06 113.52L524.64 113.14L525.21 112.77L525.79 112.40L526.36 112.03L526.94 111.67L527.52 111.30L528.10 110.94L528.69 110.58L529.27 110.22L529.86 109.87L530.45 109.52L531.03 109.17L531.62 108.82L532.22 108.47L532.81 108.13L533.40 107.79L534.00 107.45L534.60 107.11L535.19 106.78L535.79 106.45L536.39 106.12L537.00 105.79L537.60 105.47L538.20 105.14L538.81 104.82L539.42 104.51L540.03 104.19L540.64 103.88L541.25 103.57L541.86 103.26L542.47 102.96L543.09 102.65L543.70 102.35L544.32 102.05L544.94 101.76L545.56 101.47L546.18 101.17L546.80 100.89L547.42 100.60L548.04 100.32L548.67 100.04L549.29 99.76L549.92 99.48L550.55 99.21L551.18 98.94L551.81 98.67L552.44 98.40L553.07 98.14L553.71 97.88M569.19 92.36L569.85 92.17L570.50 91.97L571.16 91.78L571.82 91.59L572.48 91.40L573.14 91.21L573.80 91.03L574.46 90.85L575.12 90.68L575.78 90.50M488.07 208.57L488.28 208.04L488.49 207.50L488.70 206.97L488.91 206.44L489.13 205.91L489.35 205.38L489.57 204.85L489.79 204.32L490.01 203.79L490.24 203.26L490.47 202.74L490.70 202.21L490.93 201.69L491.16 201.17L491.40 200.64L491.64 200.12L491.88 199.60L492.12 199.08L492.36 198.57L492.61 198.05L492.86 197.53L493.11 197.02L493.36 196.50L493.61 195.99L493.87 195.48L494.13 194.97L494.39 194.45L494.65 193.95L494.92 193.44L495.18 192.93L495.45 192.42L495.72 191.92L495.99 191.41L496.27 190.91L496.54 190.41L496.82 189.91L497.10 189.41L497.39 188.91L497.67 188.41L497.96 187.92L498.24 187.42L498.53 186.93L498.83 186.43L499.12 185.94L499.42 185.45L499.71 184.96L500.01 184.47L500.32 183.99L500.62 183.50L500.92 183.02L501.23 182.53L501.54 182.05L501.85 181.57L502.16 181.09L502.48 180.61L502.80 180.13L503.12 179.66L503.44 179.18L503.76 178.71L504.08 178.24L504.41 177.76L504.74 177.29L505.07 176.83L505.40 176.36L505.73 175.89L506.07 175.43L506.40 174.96L506.74 174.50L507.08 174.04L507.43 173.58L507.77 173.12L508.12 172.67L508.47 172.21L508.81 171.76L509.17 171.31L509.52 170.86L509.87 170.41L510.23 169.96L510.59 169.51L510.95 169.07L511.31 168.62L511.68 168.18L512.04 167.74L512.41 167.30L512.78 166.86L513.15 166.42L513.52 165.99L513.90 165.55L514.27 165.12L514.65 164.69L515.03 164.26L515.41 163.83L515.79 163.41L516.18 162.98L516.56 162.56L516.95 162.14L517.34 161.72L517.73 161.30L518.12 160.88L518.52 160.46L518.91 160.05L519.31 159.64L519.71 159.23L520.11 158.82L520.51 158.41L520.92 158.00L521.32 157.60L521.73 157.19L522.14 156.79L522.55 156.39L522.96 155.99L523.37 155.60L523.79 155.20L524.21 154.81L524.62 154.42L525.04 154.03L525.47 153.64L525.89 153.25L526.31 152.87L526.74 152.48L527.16 152.10L527.59 151.72L528.02 151.34L528.46 150.97L528.89 150.59L529.32 150.22L529.76 149.85L530.20 149.48L530.64 149.11L531.08 148.74L531.52 148.38L531.96 148.01L532.41 147.65L532.85 147.29L533.30 146.93L533.75 146.58L534.20 146.22L534.65 145.87L535.10 145.52L535.56 145.17L536.01 144.83L536.47 144.48L536.93 144.14L537.39 143.80L537.85 143.46L538.31 143.12L538.78 142.78L539.24 142.45L539.71 142.11L540.18 141.78L540.65 141.45L541.12 141.13L541.59 140.80L542.06 140.48L542.54 140.16L543.01 139.84L543.49 139.52L543.97 139.20L544.45 138.89L544.93 138.58L545.41 138.27L545.89 137.96L546.38 137.65L546.86 137.35L547.35 137.05L547.84 136.75L548.32 136.45M562.98 128.64L563.50 128.40L564.02 128.16L564.55 127.93L565.07 127.69L565.59 127.46L566.12 127.23L566.65 127.01L567.17 126.78L567.70 126.56L568.23 126.34L568.76 126.12L569.29 125.90L569.82 125.69L570.35 125.48L570.89 125.27L571.42 125.06L571.96 124.85L572.49 124.65L573.03 124.45L573.56 124.25L574.10 124.05L574.64 123.86L575.18 123.66L575.72 123.47M514.78 208.72L514.94 208.33L515.11 207.94L515.27 207.55L515.44 207.16L515.61 206.77L515.78 206.38L515.95 205.99L516.12 205.61L516.30 205.22L516.47 204.84L516.65 204.45L516.83 204.07L517.01 203.68L517.19 203.30L517.38 202.92L517.56 202.54L517.75 202.16L517.94 201.78L518.13 201.40L518.32 201.02L518.51 200.64L518.70 200.27L518.90 199.89L519.10 199.52L519.29 199.14L519.49 198.77L519.70 198.40L519.90 198.02L520.10 197.65L520.31 197.28L520.52 196.91L520.72 196.54L520.93 196.18L521.15 195.81L521.36 195.44L521.57 195.08L521.79 194.71L522.01 194.35L522.23 193.99L522.45 193.62L522.67 193.26L522.89 192.90L523.12 192.54L523.34 192.18L523.57 191.83L523.80 191.47L524.03 191.11L524.26 190.76L524.49 190.41L524.73 190.05L524.96 189.70L525.20 189.35L525.44 189.00L525.68 188.65L525.92 188.30L526.16 187.95L526.40 187.61L526.65 187.26L526.90 186.92L527.14 186.57L527.39 186.23L527.64 185.89L527.90 185.55L528.15 185.21L528.40 184.87L528.66 184.53L528.92 184.20L529.18 183.86L529.44 183.53L529.70 183.19L529.96 182.86L530.22 182.53L530.49 182.20L530.76 181.87L531.02 181.54L531.29 181.21L531.56 180.89L531.83 180.56L532.11 180.24L532.38 179.91L532.66 179.59L532.93 179.27L533.21 178.95L533.49 178.63L533.77 178.32L534.05 178.00L534.34 177.68L534.62 177.37L534.91 177.06L535.19 176.74L535.48 176.43L535.77 176.12L536.06 175.82L536.35 175.51L536.64 175.20L536.94 174.90L537.23 174.59L537.53 174.29L537.83 173.99L538.13 173.69L538.43 173.39L538.73 173.09L539.03 172.79L539.33 172.50L539.64 172.20L539.94 171.91L540.25 171.62L540.56 171.33L540.87 171.04L541.18 170.75L541.49 170.46L541.80 170.17L542.11 169.89L542.43 169.61L542.75 169.32L543.06 169.04L543.38 168.76L543.70 168.48L544.02 168.21L544.34 167.93L544.66 167.66L544.99 167.38L545.31 167.11L545.64 166.84L545.96 166.57L546.29 166.30L546.62 166.03L546.95 165.77L547.28 165.50L547.61 165.24L547.95 164.98L548.28 164.72L548.62 164.46L548.95 164.20L549.29 163.94L549.63 163.69L549.97 163.43L550.31 163.18L550.65 162.93L550.99 162.68L551.33 162.43L551.68 162.18L552.02 161.94L552.37 161.69L552.72 161.45L553.06 161.21L553.41 160.97M566.94 153.07L567.32 152.88L567.70 152.70L568.08 152.51L568.46 152.33L568.85 152.15L569.23 151.97L569.62 151.80L570.00 151.62L570.39 151.45L570.78 151.27L571.16 151.10L571.55 150.93L571.94 150.77L572.33 150.60L572.72 150.44L573.11 150.27L573.50 150.11L573.90 149.95L574.29 149.79L574.68 149.64L575.08 149.48L575.47 149.33M534.14 208.84L534.26 208.57L534.37 208.29L534.49 208.02L534.62 207.74L534.74 207.47L534.86 207.20L534.99 206.93L535.11 206.65L535.24 206.38L535.37 206.11L535.49 205.84L535.62 205.57L535.75 205.30L535.89 205.03L536.02 204.77L536.15 204.50L536.29 204.23L536.42 203.97L536.56 203.70L536.70 203.43L536.84 203.17L536.98 202.90L537.12 202.64L537.26 202.38L537.40 202.11L537.55 201.85L537.69 201.59L537.84 201.33L537.99 201.07L538.14 200.81L538.29 200.55L538.44 200.29L538.59 200.03L538.74 199.78L538.89 199.52L539.05 199.26L539.20 199.01L539.36 198.75L539.52 198.50L539.68 198.24L539.84 197.99L540.00 197.74L540.16 197.49L540.32 197.24L540.48 196.98L540.65 196.73L540.81 196.49L540.98 196.24L541.15 195.99L541.32 195.74L541.49 195.49L541.66 195.25L541.83 195.00L542.00 194.76L542.17 194.51L542.35 194.27L542.52 194.03L542.70 193.79L542.88 193.55L543.05 193.30L543.23 193.06L543.41 192.83L543.59 192.59L543.78 192.35L543.96 192.11L544.14 191.88L544.33 191.64L544.51 191.41L544.70 191.17L544.89 190.94L545.07 190.71L545.26 190.47L545.45 190.24L545.64 190.01L545.84 189.78L546.03 189.55L546.22 189.33L546.42 189.10L546.61 188.87L546.81 188.65L547.01 188.42L547.20 188.20L547.40 187.97L547.60 187.75L547.80 187.53L548.00 187.31L548.21 187.09L548.41 186.87L548.61 186.65L548.82 186.43L549.03 186.21L549.23 186.00L549.44 185.78L549.65 185.57L549.86 185.35L550.07 185.14L550.28 184.93L550.49 184.72L550.70 184.51L550.92 184.30L551.13 184.09L551.35 183.88L551.56 183.67L551.78 183.46L552.00 183.26L552.21 183.05L552.43 182.85L552.65 182.65L552.87 182.45L553.10 182.24L553.32 182.04L553.54 181.85L553.77 181.65L553.99 181.45L554.22 181.25L554.44 181.06L554.67 180.86L554.90 180.67L555.13 180.47L555.35 180.28L555.58 180.09L555.82 179.90L556.05 179.71M570.36 170.49L570.63 170.36L570.90 170.23L571.17 170.10L571.43 169.97L571.71 169.84L571.98 169.72L572.25 169.59L572.52 169.47L572.79 169.34L573.07 169.22L573.34 169.10L573.61 168.98L573.89 168.86L574.16 168.74L574.44 168.62L574.71 168.51L574.99 168.39L575.27 168.28L575.54 168.16" clip-path="url(#cp)" stroke="#111" stroke-width="1.05" fill="none"/>
<text x="461.27" y="35.89" transform="rotate(-32.596506142418065 461.27 32.89)" text-anchor="middle" class="c">16.0</text>
<text x="438.65" y="140.44" transform="rotate(-56.61268557113391 438.65 137.44)" text-anchor="middle" class="c">8.0</text>
<text x="557.66" y="54.95" transform="rotate(-14.76420290289478 557.66 51.95)" text-anchor="middle" class="c">8.0</text>
<text x="561.38" y="97.94" transform="rotate(-19.601010233583935 561.38 94.94)" text-anchor="middle" class="c">4.0</text>
<text x="555.56" y="135.32" transform="rotate(-28.03971838688406 555.56 132.32)" text-anchor="middle" class="c">2.0</text>
<text x="559.99" y="159.80" transform="rotate(-30.32610367290846 559.99 156.80)" text-anchor="middle" class="c">1.0</text>
<text x="562.92" y="177.71" transform="rotate(-32.79744454034605 562.92 174.71)" text-anchor="middle" class="c">0.5</text>
</svg>
</body></html>
